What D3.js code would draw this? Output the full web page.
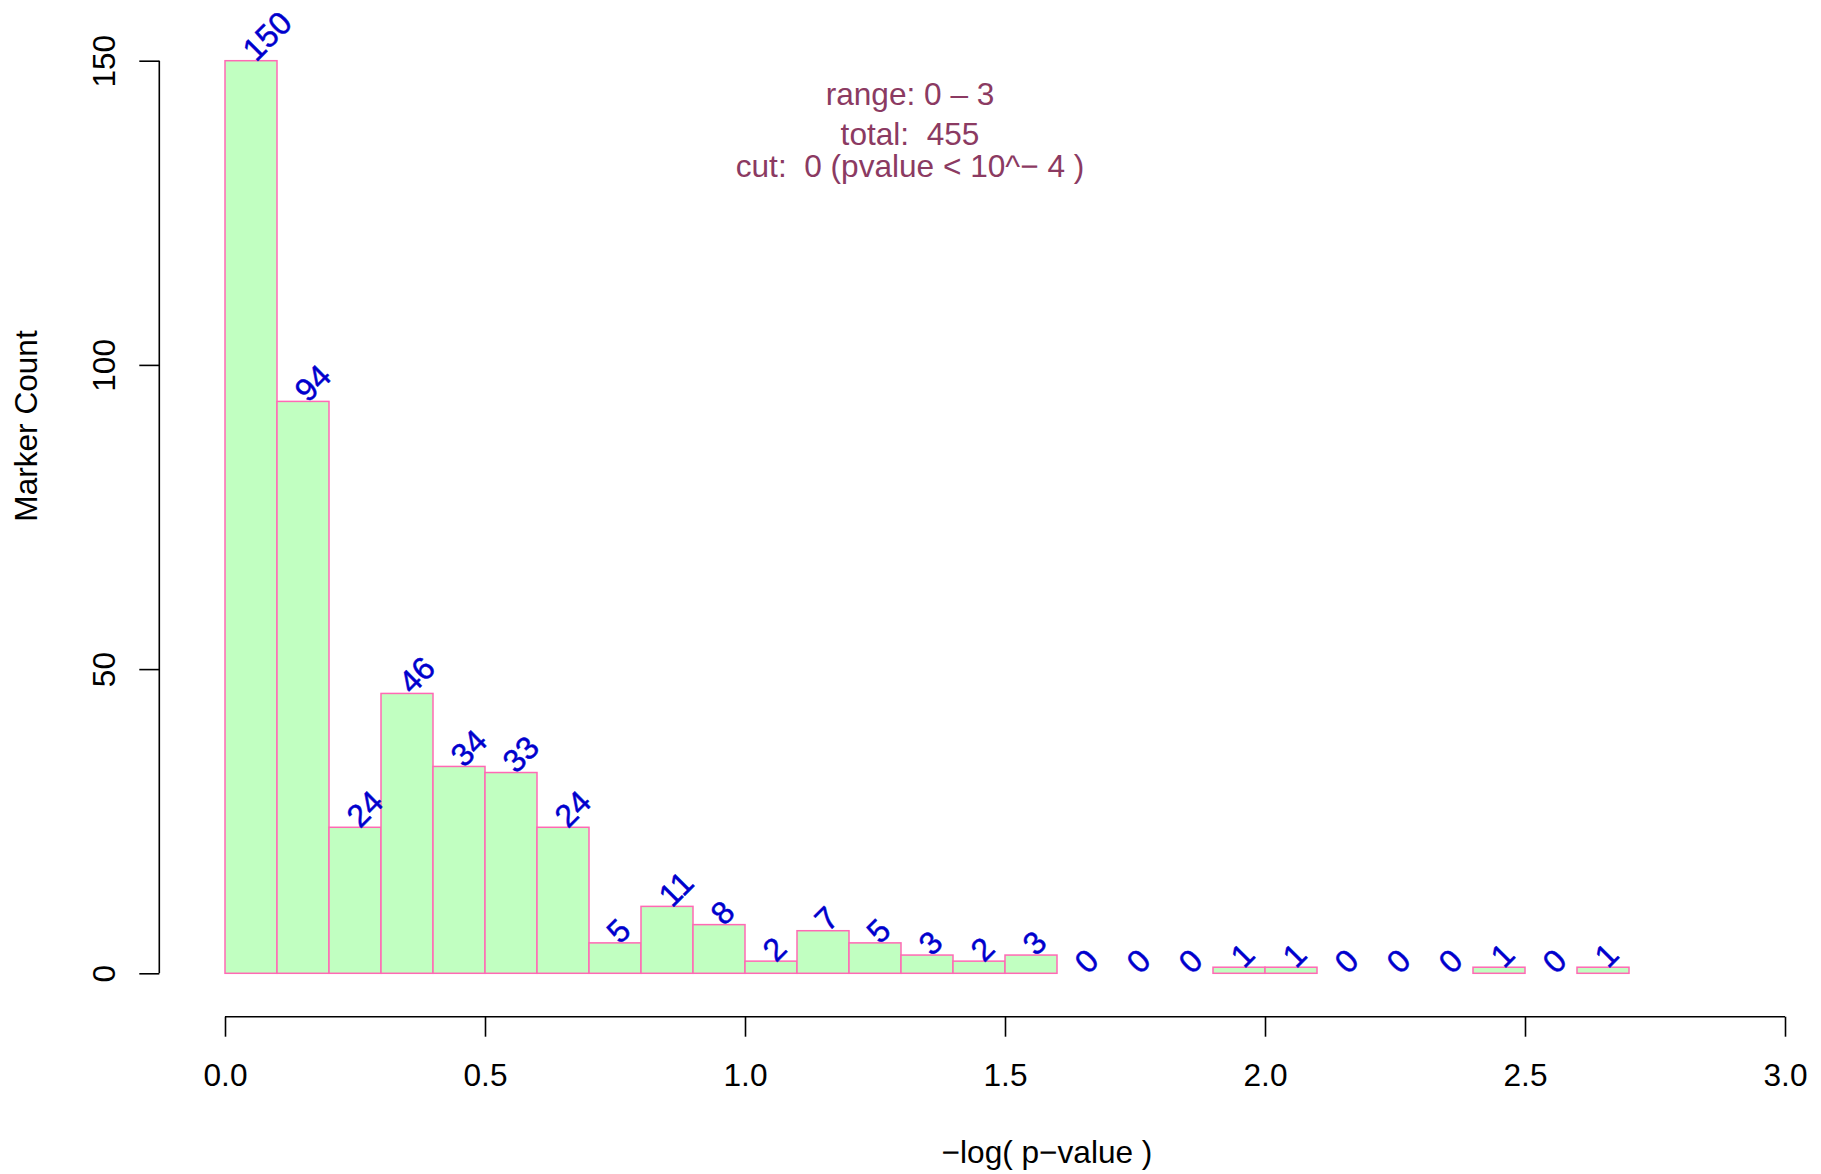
<!DOCTYPE html>
<html>
<head>
<meta charset="utf-8">
<script src="https://cdn.jsdelivr.net/npm/d3@7"></script>
<style>
  html, body { margin: 0; padding: 0; background: #fff; }
  svg text { font-family: "Liberation Sans", Arial, Helvetica, sans-serif; white-space: pre; }
</style>
</head>
<body>
<svg id="chart" width="1821" height="1174"></svg>
<script>
// Histogram of -log(p-value): bins of width 0.1 from 0 to 2.7
const binStarts = d3.range(0, 27).map(i => +(i * 0.1).toFixed(1));
const counts = [150, 94, 24, 46, 34, 33, 24, 5, 11, 8, 2, 7, 5, 3, 2, 3, 0, 0, 0, 1, 1, 0, 0, 0, 1, 0, 1];
const binWidth = 0.1;
const xTicks = [0, 0.5, 1.0, 1.5, 2.0, 2.5, 3.0];
const yTicks = [0, 50, 100, 150];
const headerLines = ["range: 0 \u2013 3", "total:  455", "cut:  0 (pvalue < 10^\u2212 4 )"];
const xTitle = "\u2212log( p\u2212value )";
const yTitle = "Marker Count";

const svg = d3.select("#chart");
const FONT = 31.6;

const x = d3.scaleLinear().domain([0, 3]).range([225, 1785]);
const y = d3.scaleLinear().domain([0, 150]).range([973.3, 60.7]);

// bars
const bins = binStarts.map((s, i) => ({ x0: s, x1: s + binWidth, n: counts[i] }));
svg.append("g").selectAll("rect").data(bins).join("rect")
  .attr("x", d => x(d.x0))
  .attr("y", d => y(d.n))
  .attr("width", d => x(d.x1) - x(d.x0))
  .attr("height", d => y(0) - y(d.n))
  .attr("fill", "#C1FFC1")
  .attr("stroke", "#FF69B4")
  .attr("stroke-width", 1.5);

// count labels, rotated 45 degrees above each bar
svg.append("g").selectAll("text").data(bins).join("text")
  .attr("transform", d => `translate(${x((d.x0 + d.x1) / 2) + 5},${y(d.n) + 2}) rotate(-45)`)
  .attr("text-anchor", "start")
  .attr("font-size", 32)
  .attr("fill", "#0000CD")
  .attr("stroke", "#0000CD")
  .attr("stroke-width", 0.5)
  .text(d => d.n);

// x axis
const xAxis = d3.axisBottom(x).tickValues(xTicks).tickFormat(d3.format(".1f"))
  .tickSize(20).tickPadding(0);
const gx = svg.append("g").attr("transform", "translate(0,1016.7)").call(xAxis);
gx.select(".domain").attr("d", `M${x(0)},0H${x(3)}`).attr("stroke", "#000").attr("stroke-width", 1.6);
gx.selectAll(".tick line").attr("stroke", "#000").attr("stroke-width", 1.6);
gx.selectAll(".tick text").attr("y", 69).attr("dy", null)
  .attr("font-size", FONT).attr("fill", "#000")
  .attr("font-family", "'Liberation Sans', Arial, Helvetica, sans-serif");

// y axis
const yAxis = d3.axisLeft(y).tickValues(yTicks).tickSize(20).tickPadding(0);
const gy = svg.append("g").attr("transform", "translate(159.3,0)").call(yAxis);
gy.select(".domain").attr("d", `M0,${y(0)}V${y(150)}`).attr("stroke", "#000").attr("stroke-width", 1.6);
gy.selectAll(".tick line").attr("stroke", "#000").attr("stroke-width", 1.6);
gy.selectAll(".tick text")
  .attr("x", null).attr("dy", null)
  .attr("transform", "translate(-44.3,0) rotate(-90)")
  .attr("text-anchor", "middle")
  .attr("font-size", FONT).attr("fill", "#000")
  .attr("font-family", "'Liberation Sans', Arial, Helvetica, sans-serif");

// axis titles
svg.append("text")
  .attr("x", 1047).attr("y", 1163)
  .attr("text-anchor", "middle")
  .attr("font-size", FONT)
  .text(xTitle);

svg.append("text")
  .attr("transform", "translate(37.3,426) rotate(-90)")
  .attr("text-anchor", "middle")
  .attr("font-size", FONT)
  .text(yTitle);

// summary header
const headerY = [105, 145, 176.7];
svg.append("g").selectAll("text").data(headerLines).join("text")
  .attr("x", 910)
  .attr("y", (d, i) => headerY[i])
  .attr("text-anchor", "middle")
  .attr("font-size", FONT)
  .attr("fill", "#8B3A62")
  .text(d => d);
</script>
</body>
</html>
